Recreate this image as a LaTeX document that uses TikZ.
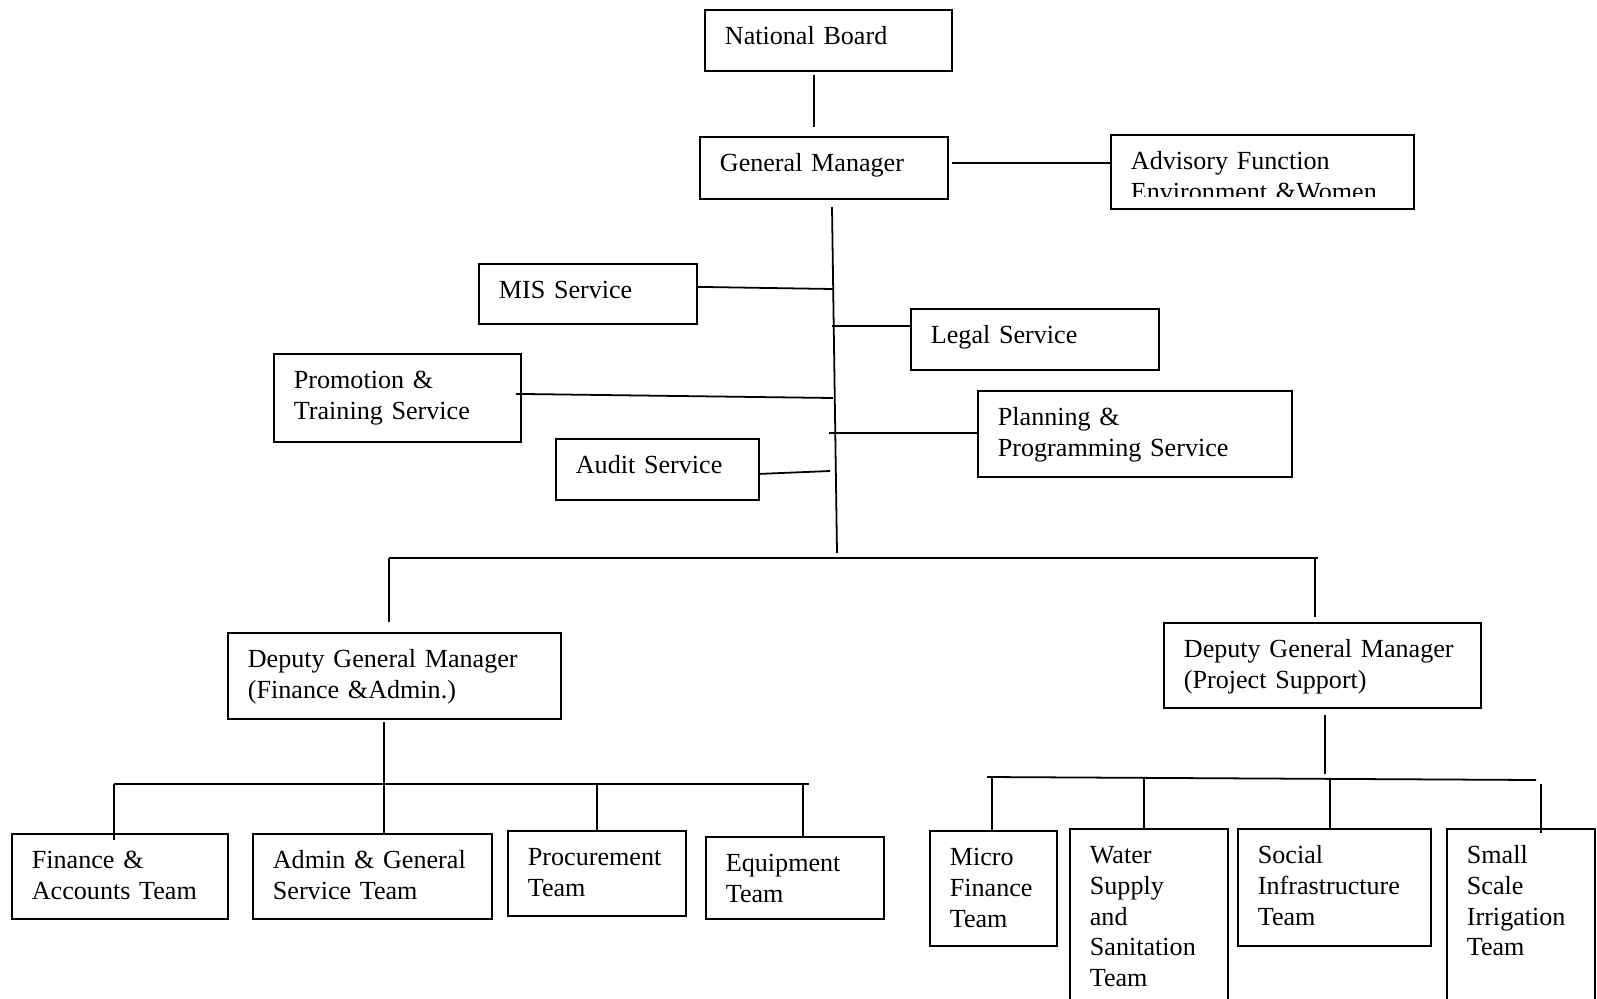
\documentclass[tikz,border=0pt]{standalone}
\usepackage{fontspec}
\setmainfont{Liberation Serif}

\begin{document}
\begin{tikzpicture}[x=0.45pt, y=-0.45pt, line width=0.8pt,
	box/.style={draw, rectangle, anchor=north west, align=left,
		inner xsep=9pt, inner ysep=0pt, text height=15.75pt,
		font=\fontsize{11.75}{13.8}\selectfont}]
	\useasboundingbox (0,0) rectangle (1597,998);
	\clip (0,0) rectangle (1597,998);

	\node[box, text width=93.15pt, text depth=11.7pt] (nb) at (704,9) {National Board};
	\node[box, text width=93.6pt, text depth=12.15pt] (gm) at (699,136) {General Manager};
	\node[box, text width=118.35pt, text depth=17.55pt] (adv) at (1110,134) {};
	\begin{scope}
		\clip (adv.north west) rectangle ([yshift=5.8pt]adv.south east);
		\node[box, draw=none, text width=118.35pt] (advtext) at (1110,134) {Advisory Function\\Environment \&Women};
	\end{scope}
	\node[box, text width=80.1pt, text depth=11.25pt] (mis) at (478,263) {MIS Service};
	\node[box, text width=93.6pt, text depth=11.7pt] (legal) at (910,308) {Legal Service};
	\node[box, text width=93.15pt, text depth=23.85pt] (promo) at (273,353) {Promotion \&\\Training Service};
	\node[box, text width=123.3pt, text depth=22.95pt] (plan) at (977,390) {Planning \&\\Programming Service};
	\node[box, text width=73.35pt, text depth=11.7pt] (audit) at (555,438) {Audit Service};
	\node[box, text width=131.85pt, text depth=22.95pt] (dgmfa) at (227,632) {Deputy General Manager\\(Finance \&Admin.)};
	\node[box, text width=124.65pt, text depth=22.5pt] (dgmps) at (1163,622) {Deputy General Manager\\(Project Support)};
	\node[box, text width=79.2pt, text depth=22.5pt] (fin) at (11,833) {Finance \&\\Accounts Team};
	\node[box, text width=89.55pt, text depth=22.5pt] (admin) at (252,833) {Admin \& General\\Service Team};
	\node[box, text width=62.1pt, text depth=22.5pt] (proc) at (507,830) {Procurement\\Team};
	\node[box, text width=62.1pt, text depth=21.15pt] (equip) at (705,836) {Equipment\\Team};
	\node[box, text width=39.15pt, text depth=36pt] (micro) at (929,830) {Micro\\Finance\\Team};
	\node[box, text width=53.1pt, text depth=69.75pt] (water) at (1069,828) {Water\\Supply\\and\\Sanitation\\Team};
	\node[box, text width=68.85pt, text depth=36.9pt] (social) at (1237,828) {Social\\Infrastructure\\Team};
	\node[box, text width=48.6pt, text depth=69.75pt] (small) at (1446,828) {Small\\Scale\\Irrigation\\Team};

	\coordinate (nbgm) at (814,127);
	\coordinate (gmadv) at (952,163);
	\coordinate (ttop) at (832,207);
	\coordinate (tbot) at (837,553);
	\coordinate (tmis) at (833,289);
	\coordinate (tlegal) at (832,326);
	\coordinate (tpromo) at (833,398);
	\coordinate (tplan) at (829,433);
	\coordinate (taudit) at (830,471);
	\coordinate (busL) at (389,558);
	\coordinate (busR) at (1318,558);
	\coordinate (busPS) at (1315,558);
	\coordinate (fadown) at (384,784);
	\coordinate (lbusL) at (114,784);
	\coordinate (lbusR) at (809,784);
	\coordinate (jproc) at (597,784);
	\coordinate (jequip) at (803,784);
	\coordinate (psdown) at (1325,774);
	\coordinate (rbusL) at (987,777);
	\coordinate (rbusR) at (1536,780);
	\coordinate (jmicro) at (992,777);
	\coordinate (jwater) at (1144,777);
	\coordinate (jsocial) at (1330,780);
	\coordinate (jsmall) at (1541,784);

	\draw (nb.south -| nbgm) ++(0,3) -- (nbgm);
	\draw (gmadv) -- (gmadv -| adv.west);
	\draw (ttop) -- (tbot);
	\draw (mis.east) ++(0,-7) -- (tmis);
	\draw (tlegal) -- (tlegal -| legal.west);
	\draw (promo.east) ++(-6,-4) -- (tpromo);
	\draw (tplan) -- (tplan -| plan.west);
	\draw (audit.east) ++(0,4.5) -- (taudit);

	\draw (busL) -- (busR);
	\draw (busL) -- ++(0,64);
	\draw (busPS) -- ++(0,59);

	\draw (dgmfa.south -| fadown) ++(0,2) -- (fadown);
	\draw (lbusL) -- (lbusR);
	\draw (lbusL) -- ++(0,56);
	\draw (fadown) -- (fadown |- admin.north);
	\draw (jproc) -- (jproc |- proc.north);
	\draw (jequip) -- (jequip |- equip.north);

	\draw (dgmps.south -| psdown) ++(0,6) -- (psdown);
	\draw (rbusL) -- (rbusR);
	\draw (jmicro) -- (jmicro |- micro.north);
	\draw (jwater) -- (jwater |- water.north);
	\draw (jsocial) -- (jsocial |- social.north);
	\draw (jsmall) -- ++(0,49);
\end{tikzpicture}
\end{document}
